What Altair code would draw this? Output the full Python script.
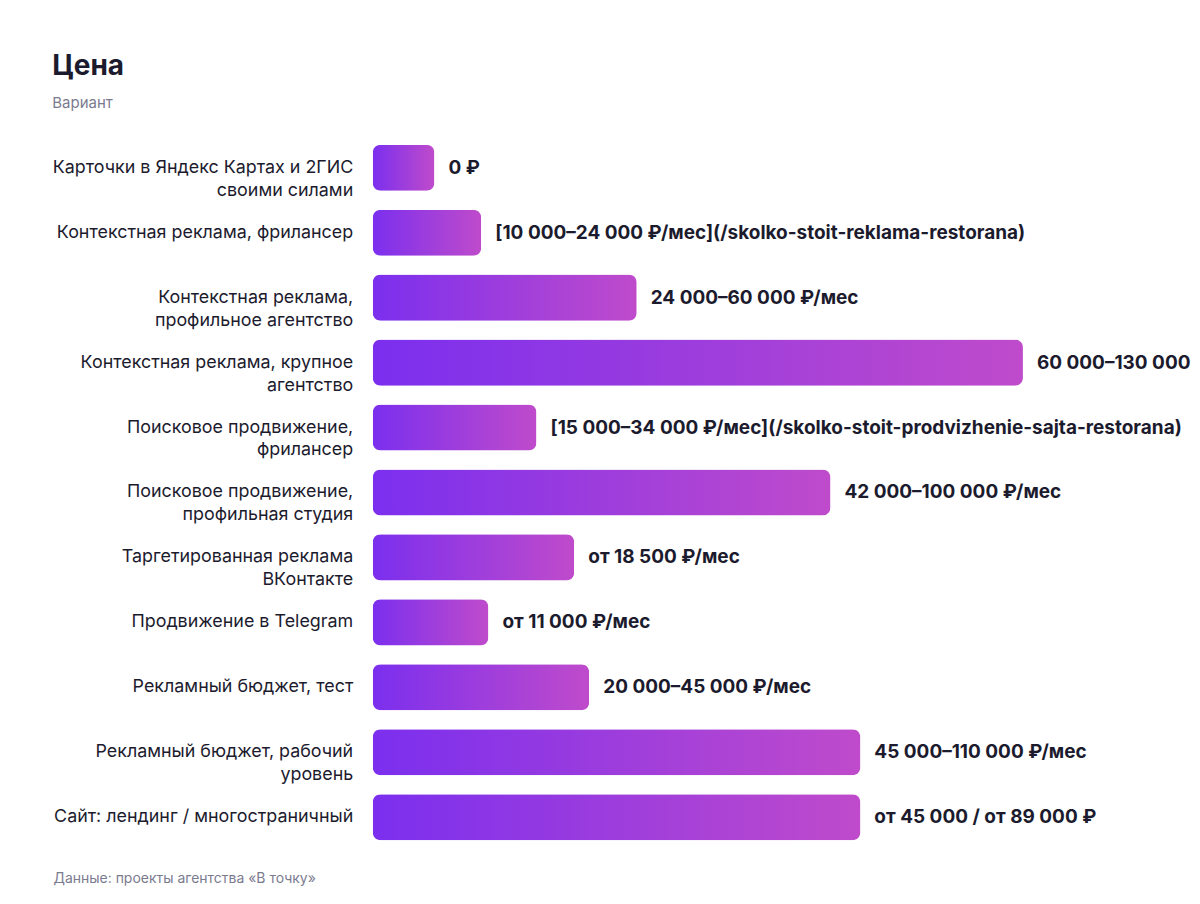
import altair as alt
import pandas as pd

# categories (line breaks as in the picture)
variants = [
    "Карточки в Яндекс Картах и 2ГИС\nсвоими силами",
    "Контекстная реклама, фрилансер",
    "Контекстная реклама,\nпрофильное агентство",
    "Контекстная реклама, крупное\nагентство",
    "Поисковое продвижение,\nфрилансер",
    "Поисковое продвижение,\nпрофильная студия",
    "Таргетированная реклама\nВКонтакте",
    "Продвижение в Telegram",
    "Рекламный бюджет, тест",
    "Рекламный бюджет, рабочий\nуровень",
    "Сайт: лендинг / многостраничный",
]

# bar length, thousand rubles
values = [9.5, 16.7, 40.6, 100, 25.2, 70.4, 31, 17.8, 33.3, 75, 75]

price_labels = [
    "0 ₽",
    "[10 000–24 000 ₽/мес](/skolko-stoit-reklama-restorana)",
    "24 000–60 000 ₽/мес",
    "60 000–130 000 ₽/мес",
    "[15 000–34 000 ₽/мес](/skolko-stoit-prodvizhenie-sajta-restorana)",
    "42 000–100 000 ₽/мес",
    "от 18 500 ₽/мес",
    "от 11 000 ₽/мес",
    "20 000–45 000 ₽/мес",
    "45 000–110 000 ₽/мес",
    "от 45 000 / от 89 000 ₽",
]

df = pd.DataFrame({"variant": variants, "value": values, "label": price_labels})

font = "Inter"
dark = "#1c1b2e"
gray = "#7b7b8f"

gradient = alt.Gradient(
    gradient="linear",
    stops=[
        alt.GradientStop(color="#7b2fee", offset=0),
        alt.GradientStop(color="#bf4bcb", offset=1),
    ],
    x1=0, x2=1, y1=0, y2=0,
)

y_enc = alt.Y(
    "variant:N",
    sort=None,
    title=None,
    scale=alt.Scale(paddingInner=0.29, paddingOuter=0.145),
    axis=alt.Axis(
        ticks=False, domain=False, labelPadding=20, labelFontSize=17.9,
        labelColor=dark, labelFont=font, labelLimit=400, labelLineHeight=23,
        labelExpr="split(datum.label, '\\n')",
    ),
)

x_enc = alt.X(
    "value:Q",
    scale=alt.Scale(domain=[0, 126], nice=False),
    title="Данные: проекты агентства «В точку»",
    axis=alt.Axis(
        labels=False, ticks=False, domain=False, grid=False,
        titleX=-320, titleY=33, titleAlign="left", titleBaseline="alphabetic",
        titleFont=font, titleFontSize=14, titleFontWeight="normal", titleColor=gray,
    ),
)

bars = alt.Chart(df).mark_bar(color=gradient, cornerRadius=8).encode(
    x=x_enc,
    y=y_enc,
)

text = alt.Chart(df).mark_text(
    align="left", baseline="middle", dx=14, fontSize=19, fontWeight="bold",
    color=dark, font=font, clip=True,
).encode(
    x="value:Q",
    y=alt.Y("variant:N", sort=None),
    text="label:N",
)

chart = (bars + text).properties(
    width=820,
    height=715,
    padding={"left": 44, "top": 45, "right": 0, "bottom": 10},
    title=alt.Title(
        text="Цена",
        subtitle="Вариант",
        anchor="start",
        font=font,
        fontSize=28,
        fontWeight="bold",
        color=dark,
        subtitleFont=font,
        subtitleFontSize=15,
        subtitleColor=gray,
        subtitlePadding=15,
        offset=24,
    ),
).configure_view(stroke=None)

chart.save("out.html", embed_options={"renderer": "svg", "actions": False})
